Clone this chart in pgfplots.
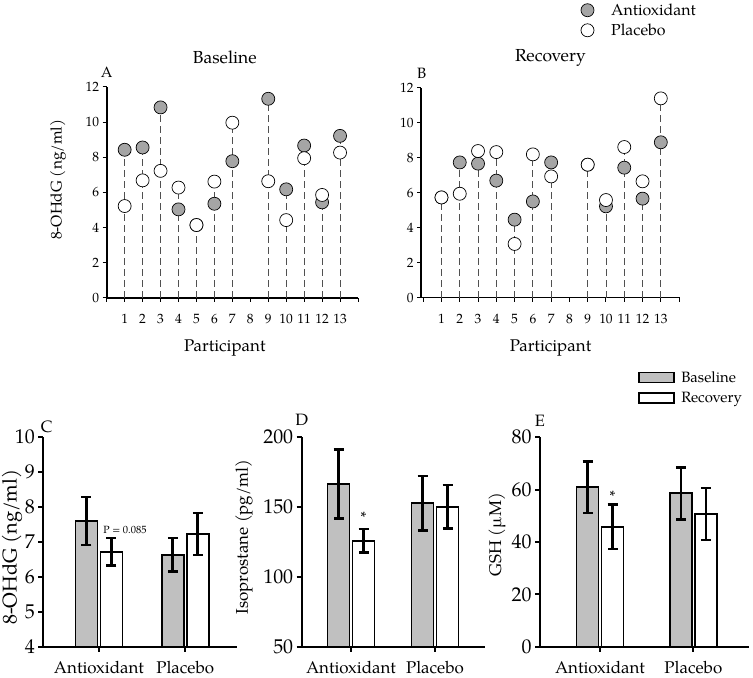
\documentclass[border=0pt]{standalone}
\usepackage{fontspec}
\setmainfont{TeX Gyre Pagella}
\usepackage{pgfplots}
\pgfplotsset{compat=1.18}

\definecolor{mgray}{RGB}{165,165,165}
\definecolor{bgray}{RGB}{192,192,192}
\definecolor{dgray}{RGB}{80,80,80}

\pgfplotsset{
  toppanel/.style={
    scale only axis, axis lines=left,
    axis line style={line width=1.6bp,-},
    ymin=0, ymax=12, ytick={0,2,...,12},
    xtick={0,...,14}, xticklabels={{},1,2,3,4,5,6,7,8,9,10,11,12,13,{}},
    tick align=outside, major tick length=4bp,
    tick style={black, line width=1bp},
    tick label style={font=\fontsize{13.5}{14}\selectfont},
    xticklabel style={yshift=-9bp},
    /pgf/number format/assume math mode=true,
    clip=false,
    xlabel={Participant},
    xlabel style={font=\fontsize{17}{18}\selectfont, at={(axis description cs:0.47,-0.237)}, anchor=center},
    title style={font=\fontsize{17.5}{18}\selectfont, anchor=center, yshift=0bp},
  },
  combline/.style={ycomb, dgray, line width=0.8bp, dash pattern=on 7bp off 4bp, forget plot},
  antimark/.style={only marks, mark=*, mark size=6.5bp, mark options={fill=mgray, draw=black, line width=0.7bp}},
  placmark/.style={only marks, mark=*, mark size=6.5bp, mark options={fill=white, draw=black, line width=0.7bp}},
  bottompanel/.style={
    scale only axis, axis lines=left,
    axis line style={line width=2bp,-},
    ybar=3bp, bar width=22bp,
    xtick={0,1}, xticklabels={Antioxidant,Placebo},
    tick align=outside, major tick length=5bp,
    tick style={black, line width=2bp},
    yticklabel style={font=\fontsize{20}{20}\selectfont},
    xticklabel style={font=\fontsize{17}{18}\selectfont, inner sep=0pt, yshift=-9bp},
    /pgf/number format/assume math mode=true,
    clip mode=individual,
    legend cell align=left,
  },
  basebar/.style={fill=bgray, draw=black, line width=1.9bp,
    error bars/.cd, y dir=both, y explicit,
    error bar style={line width=2.6bp, black},
    error mark options={rotate=90, mark size=5bp, line width=2.6bp, black}},
  recbar/.style={fill=white, draw=black, line width=1.9bp,
    error bars/.cd, y dir=both, y explicit,
    error bar style={line width=2.6bp, black},
    error mark options={rotate=90, mark size=5bp, line width=2.6bp, black}},
}

\pgfplotstableread{
p  anti   plac
1  8.43   5.23
2  8.56   6.69
3  10.84  7.23
4  5.04   6.28
5  4.15   4.15
6  5.36   6.62
7  7.78   9.97
9  11.33  6.64
10 6.18   4.43
11 8.67   7.95
12 5.44   5.86
13 9.22   8.27
}\baselinetable

\pgfplotstableread{
p  anti   plac
1  5.73   5.73
2  7.73   5.94
3  7.66   8.38
4  6.69   8.32
5  4.46   3.07
6  5.50   8.19
7  7.73   6.93
9  7.60   7.60
10 5.22   5.58
11 7.43   8.61
12 5.66   6.65
13 8.88   11.39
}\recoverytable

\begin{document}
\begin{tikzpicture}[x=1bp,y=1bp]
\useasboundingbox (0bp,0bp) rectangle (753bp,678bp);

% ---------- Panel A ----------
\begin{axis}[toppanel, at={(106.7bp,380bp)}, anchor=south west,
  width=251.3bp, height=211bp, xmin=0, xmax=14,
  title={Baseline}, title style={at={(axis description cs:0.47,1.11)}},
  ylabel={8-OHdG (ng/ml)},
  ylabel style={font=\fontsize{15.5}{16}\selectfont, at={(axis description cs:-0.194,0.56)}, anchor=center},
]
\addplot[combline] table[x=p,y=anti] {\baselinetable};
\addplot[combline] table[x=p,y=plac] {\baselinetable};
\addplot[antimark] table[x=p,y=anti] {\baselinetable};
\addplot[placmark] table[x=p,y=plac] {\baselinetable};
\node[font=\fontsize{15}{15}\selectfont] at (axis description cs:0,1.07) {A};
\end{axis}

% ---------- Panel B ----------
\begin{axis}[toppanel, at={(421bp,380.3bp)}, anchor=south west,
  width=259bp, height=210bp, xmin=-0.12, xmax=14.05,
  title={Recovery}, title style={at={(axis description cs:0.5,1.115)}},
  xlabel style={at={(axis description cs:0.5,-0.24)}},
  legend cell align=left,
  legend style={at={(axis description cs:0.595,1.42)}, anchor=north west,
    draw=none, fill=none, font=\fontsize{16}{16}\selectfont, row sep=3bp},
  legend image code/.code={\draw[mark repeat=2,mark phase=2,#1] plot coordinates {(0bp,0bp) (9bp,0bp) (30.5bp,0bp)}; \path (0bp,0bp) (30.5bp,0bp);},
]
\addplot[combline] table[x=p,y=anti] {\recoverytable};
\addplot[combline] table[x=p,y=plac] {\recoverytable};
\addplot[antimark] table[x=p,y=anti] {\recoverytable};
\addplot[placmark] table[x=p,y=plac] {\recoverytable};
\legend{Antioxidant,Placebo}
\node[font=\fontsize{15}{15}\selectfont] at (axis description cs:0.003,1.07) {B};
\end{axis}

% ---------- Panel C ----------
\begin{axis}[bottompanel, at={(43.3bp,31.3bp)}, anchor=south west,
  width=193.4bp, height=209.6bp, xmin=-0.645, xmax=1.596,
  ymin=4, ymax=10, ytick={4,5,...,10},
  ylabel={8-OHdG (ng/ml)},
  ylabel style={font=\fontsize{20}{20}\selectfont, at={(axis description cs:-0.162,0.475)}, anchor=center},
]
\addplot[basebar] coordinates {(0,7.60) +- (0,0.69) (1,6.63) +- (0,0.48)};
\addplot[recbar] coordinates {(0,6.72) +- (0,0.39) (1,7.23) +- (0,0.60)};
\node[font=\fontsize{10.5}{11}\selectfont, anchor=west] at (axis cs:0,7.35) [xshift=1bp] {P = 0.085};
\node[font=\fontsize{16.5}{16}\selectfont] at (axis description cs:0.017,1.05) {C};
\end{axis}

% ---------- Panel D ----------
\begin{axis}[bottompanel, at={(301.7bp,31.3bp)}, anchor=south west,
  width=183.3bp, height=210bp, xmin=-0.587, xmax=1.595,
  ymin=50, ymax=200, ytick={50,100,150,200},
  ylabel={Isoprostane (pg/ml)},
  ylabel style={font=\fontsize{17}{18}\selectfont, at={(axis description cs:-0.315,0.522)}, anchor=center},
]
\addplot[basebar] coordinates {(0,166.2) +- (0,24.5) (1,152.4) +- (0,19.5)};
\addplot[recbar] coordinates {(0,125.7) +- (0,8.5) (1,150.0) +- (0,15.5)};
\node[font=\fontsize{15}{15}\selectfont, anchor=south] at (axis cs:0,136.5) [xshift=12.5bp] {*};
\node[font=\fontsize{16.5}{16}\selectfont] at (axis description cs:0,1.08) {D};
\end{axis}

% ---------- Panel E ----------
\begin{axis}[bottompanel, at={(540bp,31.3bp)}, anchor=south west,
  width=209.3bp, height=209.4bp, xmin=-0.643, xmax=1.6,
  ymin=0, ymax=80, ytick={0,20,...,80},
  ylabel={GSH (µM)},
  ylabel style={font=\fontsize{17}{18}\selectfont, at={(axis description cs:-0.205,0.535)}, anchor=center},
  legend style={at={(axis description cs:0.455,1.335)}, anchor=north west,
    draw=none, fill=none, font=\fontsize{15}{16}\selectfont, row sep=4.5bp},
  legend image code/.code={\draw[#1, line width=1.8bp] (0bp,-5bp) rectangle (35bp,5bp); \path (0bp,0bp) (39bp,0bp);},
]
\addplot[basebar] coordinates {(0,60.9) +- (0,9.75) (1,58.6) +- (0,9.9)};
\addplot[recbar] coordinates {(0,45.9) +- (0,8.5) (1,50.7) +- (0,9.9)};
\legend{Baseline,Recovery}
\node[font=\fontsize{15}{15}\selectfont, anchor=south] at (axis cs:0,54.2) [xshift=12.5bp] {*};
\node[font=\fontsize{16.5}{16}\selectfont] at (axis description cs:0,1.08) {E};
\end{axis}
\end{tikzpicture}
\end{document}
